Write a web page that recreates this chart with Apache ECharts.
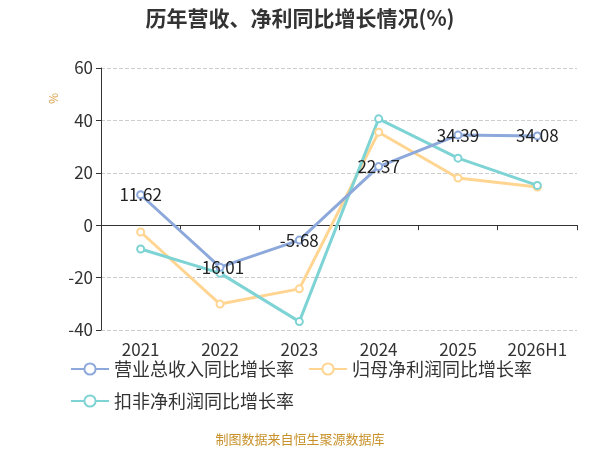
<!DOCTYPE html>
<html lang="zh">

<head>
    <meta charset="UTF-8" />
    <script src="https://cdn.jsdelivr.net/npm/echarts@6/dist/echarts.min.js"></script>
    <title>历年营收、净利同比增长情况</title>
    <style>
        html, body { margin: 0; padding: 0; background: #fff; }
        #chart { width: 600px; height: 450px; }
    </style>
</head>

<body>
    <div id="chart"></div>
    <script>
        // 数据
        var years = ["2021", "2022", "2023", "2024", "2025", "2026H1"];
        var revenueGrowth = [11.62, -16.01, -5.68, 22.37, 34.39, 34.08]; // 营业总收入同比增长率
        var netProfitGrowth = [-2.6, -30.1, -24.3, 35.5, 18.0, 14.6]; // 归母净利润同比增长率
        var deductedGrowth = [-9.1, -18.3, -36.8, 40.6, 25.6, 15.2]; // 扣非净利润同比增长率
        var seriesNames = ["营业总收入同比增长率", "归母净利润同比增长率", "扣非净利润同比增长率"];
        var colors = ["#8DA8DB", "#FFD591", "#7ED3D4"];

        var font = "'Noto Sans CJK SC', 'Noto Sans', sans-serif";

        function lineSeries(name, data, color, withLabel) {
            return {
                name: name,
                type: "line",
                data: data,
                symbol: "emptyCircle",
                symbolSize: 7,
                lineStyle: { width: 3, color: color },
                itemStyle: { color: color },
                label: {
                    show: withLabel,
                    position: "inside",
                    color: "#222",
                    fontSize: 17,
                    fontFamily: font
                },
                z: withLabel ? 5 : 3
            };
        }

        var myChart = echarts.init(document.getElementById("chart"));
        var option = {
            animation: false,
            textStyle: { fontFamily: font },
            title: {
                text: "历年营收、净利同比增长情况(%)",
                left: "center",
                top: 3,
                textStyle: { fontSize: 21, fontWeight: "bold", color: "#333", fontFamily: font }
            },
            legend: {
                left: 65,
                top: 355,
                width: 480,
                itemWidth: 38,
                itemHeight: 14,
                itemGap: 14,
                textStyle: { fontSize: 18, color: "#333", fontFamily: font },
                data: seriesNames
            },
            grid: { left: 101, right: 23, top: 68, bottom: 120 },
            xAxis: [
                {
                    type: "category",
                    data: years,
                    axisLine: { onZero: true, lineStyle: { color: "#333" } },
                    axisTick: { show: true, lineStyle: { color: "#333" } },
                    axisLabel: { show: false }
                },
                {
                    type: "category",
                    data: years,
                    position: "bottom",
                    axisLine: { show: false, onZero: false },
                    axisTick: { show: false },
                    axisLabel: { fontSize: 17, color: "#333", margin: 11, fontFamily: font }
                }
            ],
            yAxis: {
                type: "value",
                min: -40,
                max: 60,
                interval: 20,
                axisLine: { show: true, lineStyle: { color: "#333" } },
                axisTick: { show: true, lineStyle: { color: "#333" } },
                axisLabel: { fontSize: 17, color: "#333", fontFamily: font },
                splitLine: { lineStyle: { type: "dashed", color: "#ccc" } }
            },
            graphic: [
                {
                    type: "text",
                    x: 47,
                    y: 104,
                    rotation: Math.PI / 2,
                    style: { text: "%", fill: "#D9A048", font: "12px " + font }
                },
                {
                    type: "text",
                    left: "center",
                    top: 433,
                    style: { text: "制图数据来自恒生聚源数据库", fill: "#C8912B", font: "13px " + font }
                }
            ],
            series: [
                lineSeries(seriesNames[0], revenueGrowth, colors[0], true),
                lineSeries(seriesNames[1], netProfitGrowth, colors[1], false),
                lineSeries(seriesNames[2], deductedGrowth, colors[2], false)
            ]
        };
        myChart.setOption(option);
    </script>
</body>

</html>
